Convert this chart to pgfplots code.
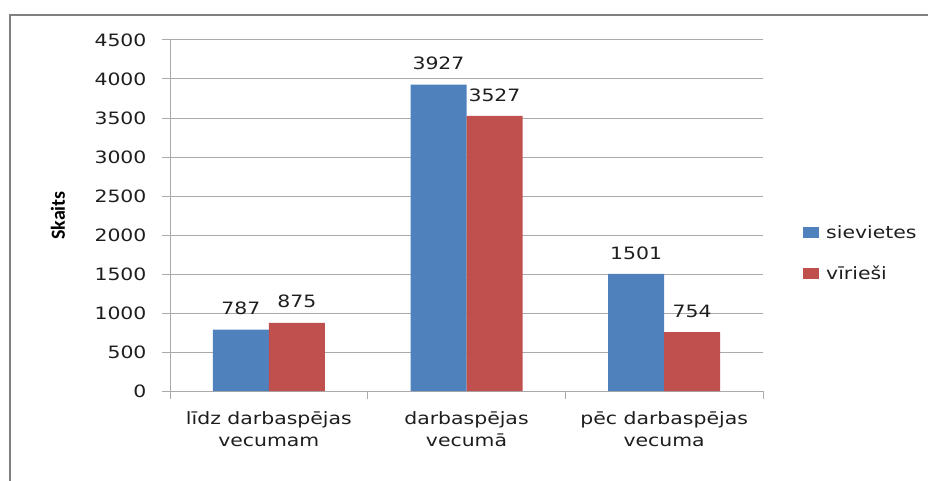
\documentclass[border=0pt]{standalone}
\usepackage{pgfplots}
\pgfplotsset{compat=1.18}
\usepackage{fontspec}
\setmainfont{DejaVu Sans}[FakeStretch=1.2]
\newfontfamily\ylfont{Carlito}
\definecolor{cblue}{RGB}{79,129,189}
\definecolor{cred}{RGB}{192,80,77}
\definecolor{gridc}{RGB}{170,170,170}
\definecolor{framec}{RGB}{128,128,128}
\definecolor{txt}{RGB}{30,30,30}
\begin{document}
\begin{tikzpicture}[x=1pt,y=1pt]
\path[use as bounding box] (0,0) rectangle (928,-481);
\draw[framec, line width=2pt] (10,-485) -- (10,-15) -- (932,-15);
\begin{axis}[
  at={(170pt,-391pt)}, anchor=south west,
  scale only axis, width=593pt, height=351pt,
  xmin=-0.5, xmax=2.5, ymin=0, ymax=4500,
  enlargelimits=false,
  axis x line*=bottom, axis y line*=left,
  axis line style={gridc,-, line width=1pt},
  ybar=0pt, bar width=56pt,
  xtick={0,1,2},
  xticklabels={{līdz darbaspējas\\vecumam},{darbaspējas\\vecumā},{pēc darbaspējas\\vecuma}},
  minor xtick={-0.5,0.5,1.5,2.5},
  major x tick style={draw=none},
  ytick={0,500,...,4500},
  tick align=outside, major tick length=8pt, minor tick length=8pt,
  tick style={gridc, line width=1pt},
  ymajorgrids, grid style={gridc, line width=1pt},
  /pgf/number format/assume math mode=true,
  /pgf/number format/1000 sep={},
  tick label style={font=\fontsize{17}{22}\selectfont, text=txt},
  xticklabel style={align=center, yshift=-9pt},
  yticklabel style={xshift=-12pt},
  every axis y label/.style={at={(axis description cs:0,0.5)}, xshift=-112pt, rotate=90, anchor=center, font=\ylfont\bfseries\fontsize{20}{24}\selectfont},
  ylabel={Skaits},
  nodes near coords,
  every node near coord/.append style={font=\fontsize{17}{22}\selectfont, text=txt, yshift=11pt},
  legend style={at={(1,0.5)}, anchor=west, xshift=40pt, yshift=-38pt, draw=none, fill=none, inner sep=0pt,
    font=\fontsize{17}{22}\selectfont, text=txt, row sep=22pt,
    nodes={inner sep=2pt},
    /tikz/every odd column/.append style={column sep=5pt}},
  legend image code/.code={\path[#1] (0pt,-5.5pt) rectangle (16pt,5.5pt);},
  legend cell align=left,
]
\addplot[fill=cblue, draw=none] coordinates {(0,787) (1,3927) (2,1501)};
\addplot[fill=cred, draw=none] coordinates {(0,875) (1,3527) (2,754)};
\legend{sievietes, vīrieši}
\end{axis}
\end{tikzpicture}
\end{document}
